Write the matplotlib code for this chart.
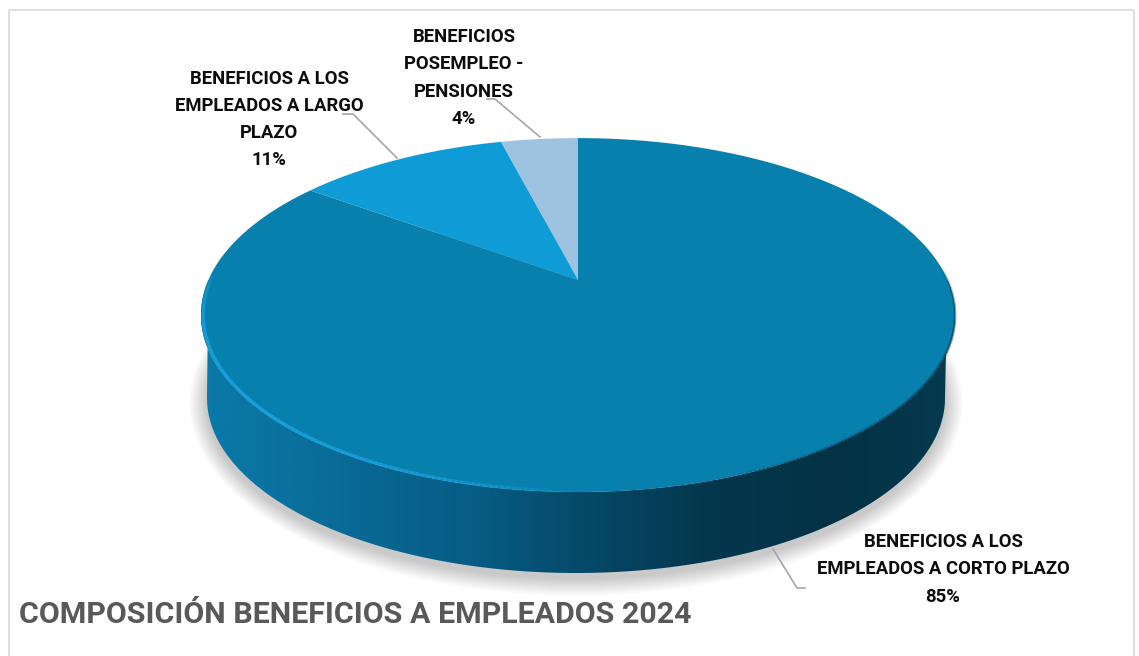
import numpy as np
import matplotlib
matplotlib.use("Agg")
import matplotlib.pyplot as plt
from matplotlib.collections import LineCollection
from matplotlib.colors import LinearSegmentedColormap, to_rgba
from matplotlib.patches import Polygon

categories = ["BENEFICIOS A LOS\nEMPLEADOS A CORTO PLAZO",
              "BENEFICIOS A LOS\nEMPLEADOS A LARGO\nPLAZO",
              "BENEFICIOS\nPOSEMPLEO -\nPENSIONES"]
values = [85, 11, 4]
colors = ["#0880ae", "#0f9bd6", "#9dc3e0"]
title = "COMPOSICIÓN BENEFICIOS A EMPLEADOS 2024"

label_pos = [(943, 569.5), (269, 119.5), (464, 78)]
leaders = [[(773, 549), (797, 588), (805, 588)],
           [(397, 158), (353, 114), (343, 114)],
           [(540, 137), (495, 99), (487, 99)]]

# perspective of the top face, apex is not the middle of the ellipse
cx, cy = 578, 280
A, B, k = 369.6, 170, 0.198

def top(theta):
    u, v = np.sin(theta), np.cos(theta)
    d = 1 + k * v
    return cx + A * u / d, cy - B * v / d

def rim(ax, t1, t2, color, lw, alpha, inset=0.0):
    th = np.radians(np.linspace(t1, t2, 120))
    x, y = top(th)
    x = x + (cx - x) * inset
    y = y + (315 - y) * inset
    pts = np.column_stack([x, y])
    segs = np.stack([pts[:-1], pts[1:]], axis=1)
    a = alpha * np.sin(np.linspace(0, np.pi, len(segs))) ** 0.6
    rgba = np.tile(to_rgba(color), (len(segs), 1))
    rgba[:, 3] = a
    ax.add_collection(LineCollection(segs, colors=rgba, linewidths=lw, capstyle="round", zorder=5))

plt.rcParams["font.family"] = ["Roboto", "DejaVu Sans"]

fig = plt.figure(figsize=(11.39, 6.56), dpi=100, facecolor="white")
ax = fig.add_axes([0, 0, 1, 1])
ax.axis("off")

# frame
ax.plot([8.5, 8.5, 1133.5, 1133.5], [656, 9.5, 9.5, 656], color="#d9d9d9", lw=1.2)

# side wall ellipse
bx, by, ba, bb = 576, 398, 369, 175
t = np.linspace(0, 2 * np.pi, 400)

# soft shadow
for i in range(18):
    grow = 18 - i
    ax.fill(bx + (ba + grow) * np.cos(t), by + 5 + (bb + grow) * np.sin(t),
            color="black", alpha=0.011, lw=0, zorder=1)

# side wall with gradient, runs from right edge down round to left edge
th = np.radians(np.linspace(90, 270, 300))
tx, ty = top(th)
s = np.radians(np.linspace(0, 180, 300))
lx, ly = bx + ba * np.cos(s), by + bb * np.sin(s)
wall = np.column_stack([np.r_[tx, lx[::-1]], np.r_[ty, ly[::-1]]])
wall_cmap = LinearSegmentedColormap.from_list("wall", [
    (0.00, "#0a7aa9"), (0.17, "#0a6c98"), (0.37, "#065c84"),
    (0.50, "#054a6a"), (0.66, "#04384f"), (0.85, "#033245"), (1.00, "#053a50")])
im = ax.imshow(np.linspace(0, 1, 256).reshape(1, -1), cmap=wall_cmap, aspect="auto",
               extent=(201, 955, 600, 250), zorder=2)
clip = Polygon(wall, closed=True, transform=ax.transData, fc="none", ec="none")
ax.add_patch(clip)
im.set_clip_path(clip)

# top face, slices from the values, smallest slice first going back from 12 o'clock
edges = np.r_[0, np.cumsum(values[::-1])] / np.sum(values)
slices = list(zip(values[::-1], colors[::-1], edges[:-1], edges[1:]))
for val, col, e1, e2 in slices:
    th = -2 * np.pi * np.linspace(e1, e2, max(int(val * 8), 20))
    x, y = top(th)
    ax.fill(np.r_[cx, x], np.r_[cy, y], color=col, lw=0, zorder=3)

# bevel light on lower left, dark edge on right
rim(ax, 182, 272, "#18a0dc", 2.4, 0.85, inset=0.006)
rim(ax, 85, 160, "#03384f", 2.0, 0.35)

# leaders
for pts in leaders:
    xs, ys = zip(*pts)
    ax.plot(xs, ys, color="#a6a6a6", lw=1.2, zorder=6, solid_joinstyle="miter")

# labels
for name, val, (lx_, ly_) in zip(categories, values, label_pos):
    ax.text(lx_, ly_, f"{name}\n{val}%", ha="center", va="center", fontsize=13.3,
            fontweight="bold", color="#0d0d0d", linespacing=1.66, zorder=7)

ax.text(19, 615, title, ha="left", va="center", fontsize=21.9, fontweight="bold", color="#595959")

ax.set_xlim(0, 1139)
ax.set_ylim(656, 0)
fig.savefig("out.png", dpi=100)
